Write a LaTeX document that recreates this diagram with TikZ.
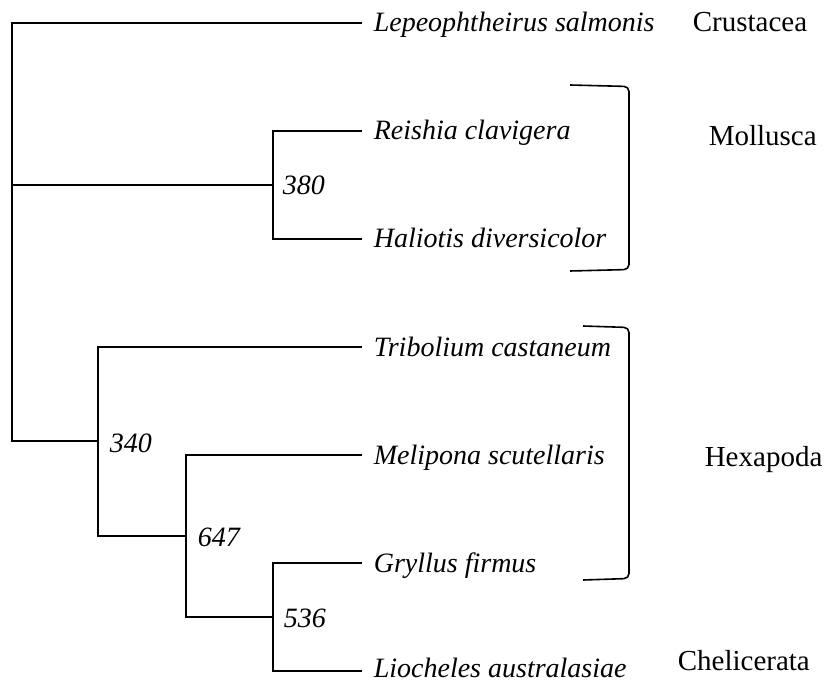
\documentclass[tikz,border=0pt]{standalone}
\usepackage{fontspec}
\setmainfont{Liberation Serif}
\begin{document}
\begin{tikzpicture}[x=1pt,y=-1pt,line width=1.6pt,
  leaf/.style={anchor=west,inner xsep=11pt,inner ysep=0pt,text height=18pt,text depth=0pt,font=\itshape},
  boot/.style={anchor=base west,inner sep=0pt,font=\itshape},
  grp/.style={anchor=base west,inner sep=0pt,font=\fontsize{29}{34}\selectfont},
  bracket/.style={line width=1.6pt,rounded corners=5pt}]
\useasboundingbox (0,0) rectangle (824,684);
\fontsize{28}{34}\selectfont
% leaves
\node[leaf] (L1) at (362,23) {Lepeophtheirus salmonis};
\node[leaf] (L2) at (362,131) {Reishia clavigera};
\node[leaf] (L3) at (362,239) {Haliotis diversicolor};
\node[leaf] (L4) at (362,347) {Tribolium castaneum};
\node[leaf] (L5) at (362,455) {Melipona scutellaris};
\node[leaf] (L6) at (362,563) {Gryllus firmus};
\node[leaf,text depth=5pt] (L7) at (362,671) {Liocheles australasiae};
% internal nodes
\coordinate (rt) at (12,23);
\coordinate (rm) at (12,185);
\coordinate (rb) at (12,441);
\coordinate (m) at (273,185);
\coordinate (a) at (98,441);
\coordinate (b) at (186,536);
\coordinate (c) at (273,617);
% branches
\draw (L1.west) -- (rt) -- (rb) -- (a);
\draw (rm) -- (m);
\draw (L2.west) -| (m) |- (L3.west);
\draw (L4.west) -| (a) |- (b);
\draw (L5.west) -| (b) |- (c);
\draw (L6.west) -| (c) |- (L7.west);
% bootstrap values
\node[boot] (v380) at (282,195) {380};
\node[boot] (v340) at (109,452) {340};
\node[boot] (v647) at (197,546) {647};
\node[boot] (v536) at (283,627) {536};
% brackets
\coordinate (mb1) at (570,85);
\coordinate (mb2) at (570,271);
\coordinate (hb1) at (583,326);
\coordinate (hb2) at (583,580);
\draw[bracket] (mb1) -- (629,86.5) -- (629,269.5) -- (mb2);
\draw[bracket] (hb1) -- (629,327.5) -- (629,578.5) -- (hb2);
% group labels
\node[grp] (g1) at (692,32) {Crustacea};
\node[grp] (g2) at (708,146) {Mollusca};
\node[grp] (g3) at (704,466) {Hexapoda};
\node[grp] (g4) at (677,670) {Chelicerata};
\end{tikzpicture}
\end{document}
